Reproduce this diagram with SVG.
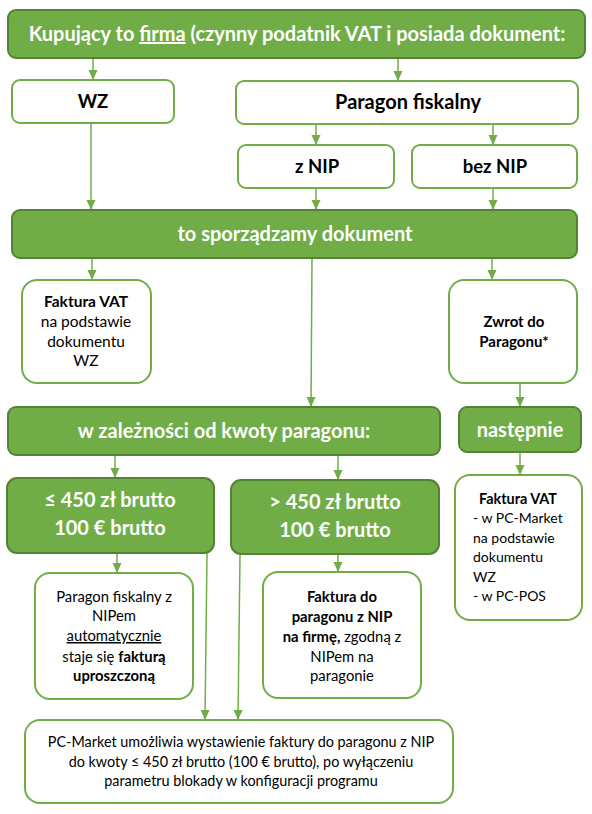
<svg xmlns="http://www.w3.org/2000/svg" width="592" height="814" viewBox="0 0 592 814">
<style>
.g{fill:#70AD47;stroke:#548235;stroke-width:2}
.w{fill:#fff;stroke:#70AD47;stroke-width:2}
.c{stroke:#70AD47;stroke-width:1.5;fill:none}
text{font-family:Lato,"Noto Sans",sans-serif}
.tw{fill:#fff;font-weight:bold;font-size:20px;text-anchor:middle}
.tb{fill:#000;font-weight:bold;font-size:18.5px;text-anchor:middle}
.t{fill:#000;font-size:14.4px;text-anchor:middle}
.b{font-weight:bold}
</style>
<defs>
<marker id="a" markerUnits="userSpaceOnUse" markerWidth="10" markerHeight="10" viewBox="0 0 10 10" refX="10" refY="5" orient="auto">
<path d="M0,0.5 L10,5 L0,9.5 Z" fill="#70AD47"/>
</marker>
</defs>
<g id="connectors">
<line class="c" x1="93" y1="58" x2="93" y2="80" marker-end="url(#a)"/>
<line class="c" x1="398" y1="58" x2="398" y2="81" marker-end="url(#a)"/>
<line class="c" x1="316" y1="124" x2="316" y2="145" marker-end="url(#a)"/>
<line class="c" x1="493" y1="124" x2="493" y2="145" marker-end="url(#a)"/>
<line class="c" x1="91" y1="123" x2="91" y2="210" marker-end="url(#a)"/>
<line class="c" x1="316" y1="188" x2="316" y2="210" marker-end="url(#a)"/>
<line class="c" x1="493" y1="188" x2="493" y2="210" marker-end="url(#a)"/>
<line class="c" x1="92" y1="258" x2="92" y2="280" marker-end="url(#a)"/>
<line class="c" x1="492" y1="258" x2="492" y2="280" marker-end="url(#a)"/>
<line class="c" x1="312" y1="258" x2="311" y2="407" marker-end="url(#a)"/>
<line class="c" x1="520" y1="383" x2="520" y2="407" marker-end="url(#a)"/>
<line class="c" x1="115" y1="455" x2="115" y2="478" marker-end="url(#a)"/>
<line class="c" x1="338" y1="455" x2="338" y2="480" marker-end="url(#a)"/>
<line class="c" x1="117" y1="553" x2="117" y2="573" marker-end="url(#a)"/>
<line class="c" x1="338" y1="554" x2="338" y2="572" marker-end="url(#a)"/>
<line class="c" x1="520" y1="452" x2="520" y2="475" marker-end="url(#a)"/>
<line class="c" x1="207" y1="553" x2="205" y2="720" marker-end="url(#a)"/>
<line class="c" x1="240" y1="555" x2="238" y2="720" marker-end="url(#a)"/>
</g>
<g id="top">
<rect class="g" x="8" y="10" width="577" height="48" rx="8"/>
<text class="tw" x="297" y="41">Kupujący to <tspan text-decoration="underline">firma</tspan> (czynny podatnik VAT i posiada dokument:</text>
</g>
<g id="wz">
<rect class="w" x="12" y="80" width="162" height="43" rx="8"/>
<text class="tb" x="93" y="108">WZ</text>
</g>
<g id="paragon">
<rect class="w" x="236" y="81" width="342" height="43" rx="8"/>
<text class="tb" x="408" y="109" style="font-size:20px">Paragon fiskalny</text>
</g>
<g id="znip">
<rect class="w" x="238" y="145" width="156" height="43" rx="8"/>
<text class="tb" x="317" y="173">z NIP</text>
</g>
<g id="beznip">
<rect class="w" x="412" y="145" width="165" height="43" rx="8"/>
<text class="tb" x="495" y="173">bez NIP</text>
</g>
<g id="sporzadzamy">
<rect class="g" x="12" y="210" width="565" height="48" rx="8"/>
<text class="tw" x="295" y="241">to sporządzamy dokument</text>
</g>
<g id="faktura1">
<rect class="w" x="22" y="280" width="129" height="103" rx="15"/>
<text class="t" x="86" y="307" style="font-size:15.5px"><tspan class="b">Faktura VAT</tspan><tspan x="86" dy="20">na podstawie</tspan><tspan x="86" dy="20">dokumentu</tspan><tspan x="86" dy="19">WZ</tspan></text>
</g>
<g id="zwrot">
<rect class="w" x="449" y="280" width="128" height="103" rx="15"/>
<text class="t b" x="514" y="327" style="font-size:15px">Zwrot do<tspan x="514" dy="20">Paragonu*</tspan></text>
</g>
<g id="zaleznosci">
<rect class="g" x="8" y="407" width="432" height="48" rx="8"/>
<text class="tw" x="224" y="438">w zależności od kwoty paragonu:</text>
</g>
<g id="nastepnie">
<rect class="g" x="459" y="407" width="122" height="45" rx="8"/>
<text class="tw" x="520" y="437">następnie</text>
</g>
<g id="le450">
<rect class="g" x="7" y="478" width="207" height="75" rx="10"/>
<text class="tw" x="110" y="507">≤ 450 zł brutto<tspan x="110" dy="28">100 € brutto</tspan></text>
</g>
<g id="gt450">
<rect class="g" x="231" y="480" width="208" height="74" rx="10"/>
<text class="tw" x="335" y="509">&gt; 450 zł brutto<tspan x="335" dy="28">100 € brutto</tspan></text>
</g>
<g id="paragonnip">
<rect class="w" x="35" y="573" width="158" height="126" rx="15"/>
<text class="t" x="114" y="602" style="font-size:14.8px">Paragon fiskalny z<tspan x="114" dy="19">NIPem</tspan><tspan x="114" dy="20" text-decoration="underline">automatycznie</tspan><tspan x="114" dy="21">staje się <tspan class="b">fakturą</tspan></tspan><tspan x="114" dy="19" class="b">uproszczoną</tspan></text>
</g>
<g id="fakturadoparagonu">
<rect class="w" x="263" y="572" width="158" height="126" rx="15"/>
<text class="t" x="342" y="602" style="font-size:14.8px"><tspan class="b">Faktura do</tspan><tspan x="342" dy="20" class="b">paragonu z NIP</tspan><tspan x="342" dy="20"><tspan class="b">na firmę,</tspan> zgodną z</tspan><tspan x="342" dy="20">NIPem na</tspan><tspan x="342" dy="19">paragonie</tspan></text>
</g>
<g id="faktura2">
<rect class="w" x="455" y="475" width="127" height="145" rx="15"/>
<text class="t b" x="518" y="504">Faktura VAT</text>
<text class="t" x="473" y="523" style="text-anchor:start;font-size:14px">- w PC-Market<tspan x="473" dy="20">na podstawie</tspan><tspan x="473" dy="19">dokumentu</tspan><tspan x="473" dy="20">WZ</tspan><tspan x="473" dy="19">- w PC-POS</tspan></text>
</g>
<g id="pcmarket">
<rect class="w" x="25" y="720" width="428" height="83" rx="15"/>
<text class="t" x="241" y="747">PC-Market umożliwia wystawienie faktury do paragonu z NIP<tspan x="241" dy="19.5">do kwoty ≤ 450 zł brutto (100 € brutto), po wyłączeniu</tspan><tspan x="241" dy="19.5">parametru blokady w konfiguracji programu</tspan></text>
</g>
</svg>
